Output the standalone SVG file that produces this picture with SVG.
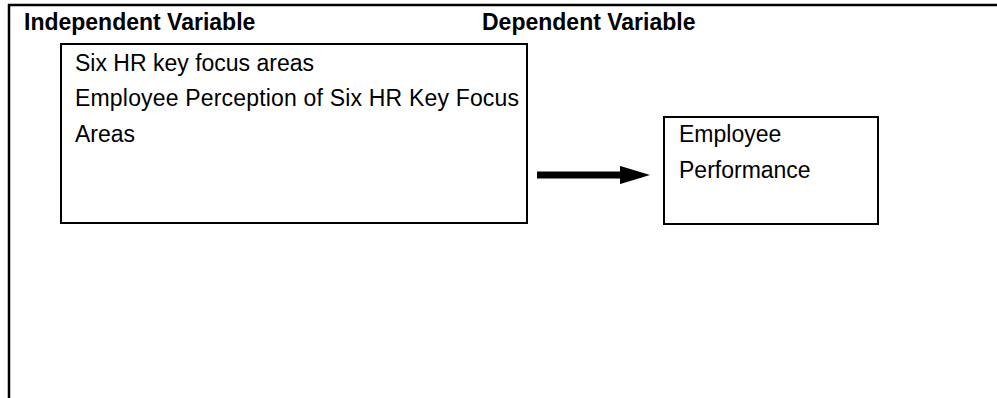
<svg xmlns="http://www.w3.org/2000/svg" width="997" height="398" viewBox="0 0 997 398">
<style>
.box{fill:#fff;stroke:#000;stroke-width:2}
.frame{fill:none;stroke:#000;stroke-width:2.5}
.t{font-family:"Liberation Sans",Arial,sans-serif;font-size:23px;fill:#000}
.h{font-family:"Liberation Sans",Arial,sans-serif;font-size:23px;font-weight:bold;fill:#000}
</style>
<defs>
<marker id="ah" markerWidth="4.3" markerHeight="2.6" refX="0" refY="1.3" orient="auto" markerUnits="strokeWidth">
<path d="M0,0 L4.3,1.3 L0,2.6 Z" fill="#000"/>
</marker>
</defs>
<rect width="997" height="398" fill="#fff"/>
<g id="frame">
<path class="frame" d="M9,398 V5 H997"/>
<text class="h" x="24" y="30">Independent Variable</text>
<text class="h" x="482" y="30">Dependent Variable</text>
</g>
<g id="independent">
<rect class="box" x="61" y="44" width="466" height="179"/>
<text class="t" x="75" y="71">Six HR key focus areas</text>
<text class="t" x="75" y="106" textLength="444">Employee Perception of Six HR Key Focus</text>
<text class="t" x="75" y="142">Areas</text>
</g>
<g id="dependent">
<rect class="box" x="664" y="117" width="214" height="107"/>
<text class="t" x="679" y="142">Employee</text>
<text class="t" x="679" y="178">Performance</text>
</g>
<g id="connectors">
<line x1="537" y1="175" x2="620" y2="175" stroke="#000" stroke-width="7" marker-end="url(#ah)"/>
</g>
</svg>
